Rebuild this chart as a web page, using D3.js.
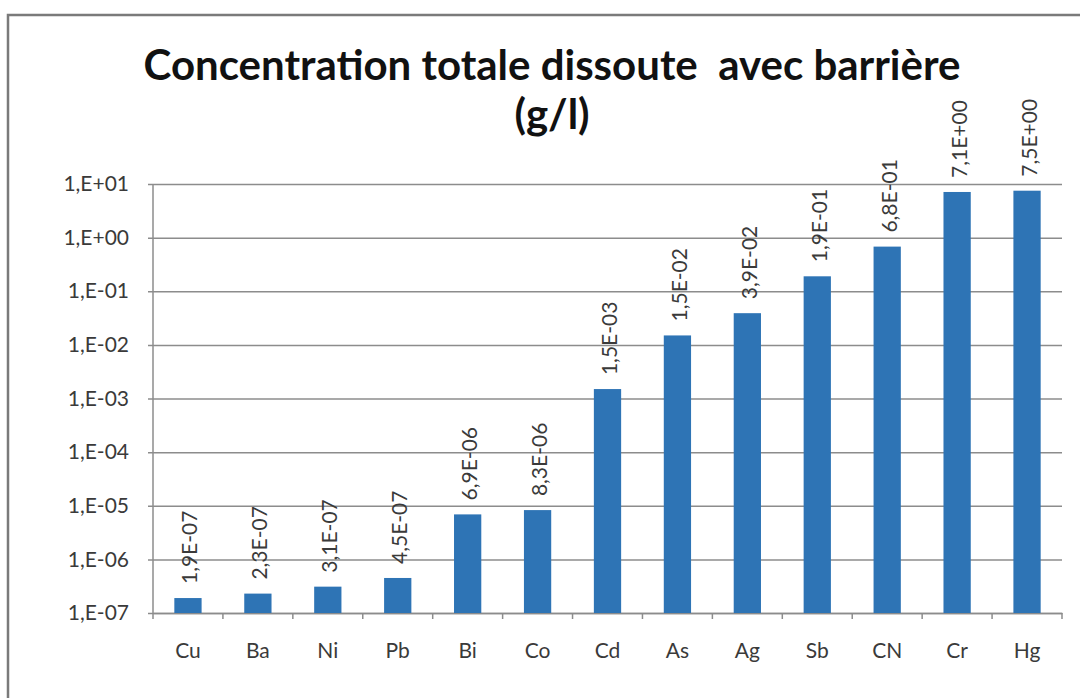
<!DOCTYPE html>
<html>
  <head>
    <meta charset="utf-8">
    <title>Concentration totale dissoute avec barrière</title>
    <script src="https://d3js.org/d3.v7.min.js"></script>
    <style>
      body { margin: 0; background: #fff; }
      #chart { display: block; }
      .axis text { font-family: Lato, "Open Sans", sans-serif; fill: #3a3a3a; }
      .axis .domain, .axis line { stroke: #8c8c8c; stroke-width: 1.5; }
    </style>
  </head>
  <body>
    <svg id="chart" width="1080" height="698"></svg>
    <script>
      // data
      var elements = ["Cu", "Ba", "Ni", "Pb", "Bi", "Co", "Cd", "As", "Ag", "Sb", "CN", "Cr", "Hg"];
      var concentrations = [1.9e-7, 2.3e-7, 3.1e-7, 4.5e-7, 6.9e-6, 8.3e-6, 1.5e-3, 1.5e-2, 3.9e-2, 1.9e-1, 6.8e-1, 7.1, 7.5];
      var yTicks = [1e-7, 1e-6, 1e-5, 1e-4, 1e-3, 1e-2, 1e-1, 1e0, 1e1];
      var titleLines = ["Concentration totale dissoute  avec barrière", "(g/l)"];

      var margin = { top: 184, right: 18, bottom: 85, left: 153 };
      var width = 1080, height = 698;
      var chart = d3.select("#chart");

      // excel-like scientific format: 1,9E-07
      function sci(v, digits) {
        var e = Math.floor(Math.log10(v) + 1e-9);
        var m = v / Math.pow(10, e);
        var exp = (e < 0 ? "-" : "+") + (Math.abs(e) < 10 ? "0" : "") + Math.abs(e);
        var mant = digits ? m.toFixed(digits).replace(".", ",") : Math.round(m) + ",";
        return mant + "E" + exp;
      }

      // frame
      chart.append("path")
        .attr("d", "M8,698 V15 H1080")
        .attr("fill", "none")
        .attr("stroke", "#7a7a7a")
        .attr("stroke-width", 2.5);

      // title (keep the double space)
      chart.append("g")
        .selectAll("text")
          .data(titleLines)
        .enter().append("text")
          .text(function(d) { return d; })
          .attr("x", 552)
          .attr("y", function(d, i) { return 80 + i * 49; })
          .attr("text-anchor", "middle")
          .style("white-space", "pre")
          .style("font-family", "Lato, 'Open Sans', sans-serif")
          .style("font-weight", "bold")
          .style("font-size", "42px")
          .style("fill", "#111");

      // scales
      var x = d3.scaleBand()
        .domain(elements)
        .range([margin.left, width - margin.right])
        .paddingInner(0.61)
        .paddingOuter(0.305);
      var y = d3.scaleLog()
        .domain([1e-7, 1e1])
        .range([height - margin.bottom, margin.top]);

      // gridlines + y axis
      var yAxis = d3.axisLeft(y)
        .tickValues(yTicks)
        .tickFormat(function(d) { return sci(d, 0); })
        .tickSizeInner(-(width - margin.right - margin.left))
        .tickSizeOuter(0)
        .tickPadding(24);
      var yAxisGroup = chart.append("g")
        .attr("class", "axis")
        .attr("transform", "translate(" + margin.left + ",0)")
        .call(yAxis);
      yAxisGroup.selectAll(".tick line")
        .attr("x1", -5)
        .attr("x2", width - margin.right - margin.left);
      yAxisGroup.selectAll(".tick text")
        .style("font-size", "21px");
      yAxisGroup.select(".domain").remove();
      chart.append("line")
        .attr("x1", margin.left).attr("x2", margin.left)
        .attr("y1", margin.top).attr("y2", height - margin.bottom)
        .attr("stroke", "#8c8c8c").attr("stroke-width", 1.5);

      // x axis with ticks between categories
      var step = x.step();
      var xAxisGroup = chart.append("g")
        .attr("class", "axis")
        .attr("transform", "translate(0," + (height - margin.bottom) + ")")
        .call(d3.axisBottom(x).tickSize(0).tickPadding(30));
      xAxisGroup.selectAll(".tick text")
        .style("font-size", "21px");
      xAxisGroup.selectAll(".sep")
          .data(d3.range(elements.length + 1))
        .enter().append("line")
          .attr("class", "sep")
          .attr("x1", function(i) { return margin.left + i * step; })
          .attr("x2", function(i) { return margin.left + i * step; })
          .attr("y1", 0)
          .attr("y2", 6);

      // bars
      chart.append("g")
        .selectAll("rect")
          .data(concentrations)
        .enter().append("rect")
          .attr("x", function(d, i) { return x(elements[i]); })
          .attr("width", x.bandwidth())
          .attr("y", function(d) { return y(d); })
          .attr("height", function(d) { return y(1e-7) - y(d); })
          .attr("fill", "#2e74b5");

      // value labels
      chart.append("g")
        .selectAll("text")
          .data(concentrations)
        .enter().append("text")
          .text(function(d) { return sci(d, 1); })
          .attr("transform", function(d, i) {
            return "translate(" + (x(elements[i]) + x.bandwidth() / 2 + 1) + "," + (y(d) - 14) + ") rotate(-90)";
          })
          .attr("dominant-baseline", "central")
          .style("font-family", "Lato, 'Open Sans', sans-serif")
          .style("font-size", "21px")
          .style("fill", "#3a3a3a");
    </script>
  </body>
</html>
